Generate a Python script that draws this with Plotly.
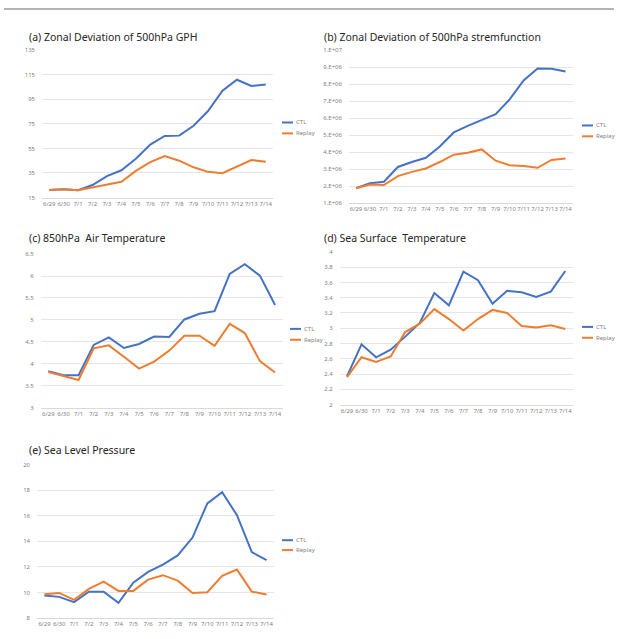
import plotly.graph_objects as go

W, H = 621, 639

dates = ["6/29", "6/30", "7/1", "7/2", "7/3", "7/4", "7/5", "7/6", "7/7", "7/8",
         "7/9", "7/10", "7/11", "7/12", "7/13", "7/14"]

gph_ctl = [21.2, 21.7, 20.9, 25.2, 32.4, 37.2, 46.6, 58.1, 65.1, 65.4, 73.4, 85.4, 102.0, 110.9, 105.8, 107.1]
gph_rep = [21.2, 21.7, 20.9, 23.3, 25.2, 27.8, 36.7, 43.9, 48.7, 45.0, 39.6, 35.9, 34.8, 39.9, 45.5, 44.2]

sf_ctl = [1.88e6, 2.17e6, 2.26e6, 3.13e6, 3.42e6, 3.67e6, 4.33e6, 5.16e6, 5.55e6, 5.90e6, 6.23e6, 7.10e6, 8.22e6, 8.92e6, 8.90e6, 8.74e6]
sf_rep = [1.88e6, 2.10e6, 2.07e6, 2.59e6, 2.84e6, 3.04e6, 3.42e6, 3.85e6, 3.97e6, 4.16e6, 3.50e6, 3.23e6, 3.19e6, 3.08e6, 3.54e6, 3.62e6]

t850_ctl = [3.83, 3.74, 3.74, 4.43, 4.60, 4.36, 4.45, 4.62, 4.61, 5.01, 5.14, 5.20, 6.05, 6.27, 6.01, 5.34]
t850_rep = [3.81, 3.72, 3.63, 4.35, 4.42, 4.16, 3.89, 4.05, 4.30, 4.64, 4.64, 4.41, 4.91, 4.70, 4.06, 3.80]

sst_ctl = [2.37, 2.79, 2.62, 2.72, 2.89, 3.07, 3.46, 3.30, 3.74, 3.63, 3.32, 3.49, 3.47, 3.41, 3.48, 3.75]
sst_rep = [2.36, 2.62, 2.56, 2.63, 2.95, 3.06, 3.25, 3.12, 2.97, 3.12, 3.24, 3.20, 3.03, 3.01, 3.04, 2.99]

slp_ctl = [9.75, 9.65, 9.24, 10.06, 10.06, 9.19, 10.76, 11.61, 12.18, 12.90, 14.30, 16.98, 17.86, 16.05, 13.16, 12.54]
slp_rep = [9.86, 9.96, 9.42, 10.27, 10.84, 10.12, 10.12, 11.00, 11.35, 10.92, 9.96, 10.01, 11.30, 11.79, 10.06, 9.83]

titles = ["(a) Zonal Deviation of 500hPa GPH",
          "(b) Zonal Deviation of 500hPa stremfunction",
          "(c) 850hPa  Air Temperature",
          "(d) Sea Surface  Temperature",
          "(e) Sea Level Pressure"]

gph_ticks = [15, 35, 55, 75, 95, 115, 135]
sf_ticks = [1e6, 2e6, 3e6, 4e6, 5e6, 6e6, 7e6, 8e6, 9e6, 1e7]
sf_ticktext = ["1.E+06", "2.E+06", "3.E+06", "4.E+06", "5.E+06", "6.E+06", "7.E+06", "8.E+06", "9.E+06", "1.E+07"]
t850_ticks = [3, 3.5, 4, 4.5, 5, 5.5, 6, 6.5]
t850_text = ["3", "3.5", "4", "4.5", "5", "5.5", "6", "6.5"]
sst_ticks = [2, 2.2, 2.4, 2.6, 2.8, 3, 3.2, 3.4, 3.6, 3.8, 4]
sst_text = ["2", "2.2", "2.4", "2.6", "2.8", "3", "3.2", "3.4", "3.6", "3.8", "4"]
slp_ticks = [8, 10, 12, 14, 16, 18, 20]

series_names = ["CTL", "Replay"]
colors = ["#4472C4", "#ED7D31"]

# panel layout (pixels): x-domain, y-domain(top,bottom), title pos, legend pos
panels = [
    dict(ctl=gph_ctl, rep=gph_rep, xd=(42, 273), yd=(46.7, 196), yr=(15, 135),
         tv=gph_ticks, tt=[str(v) for v in gph_ticks], tpos=(27, 33), lpos=(282, 120, 131)),
    dict(ctl=sf_ctl, rep=sf_rep, xd=(349, 572.5), yd=(46.7, 201.7), yr=(1e6, 1e7),
         tv=sf_ticks, tt=sf_ticktext, tpos=(322, 33), lpos=(582, 123, 134)),
    dict(ctl=t850_ctl, rep=t850_rep, xd=(40.8, 282.6), yd=(253.3, 408.7), yr=(3, 6.5),
         tv=t850_ticks, tt=t850_text, tpos=(27, 237), lpos=(290, 329, 340)),
    dict(ctl=sst_ctl, rep=sst_rep, xd=(339.7, 572.6), yd=(251, 405.7), yr=(2, 4),
         tv=sst_ticks, tt=sst_text, tpos=(322, 237), lpos=(582, 327, 338)),
    dict(ctl=slp_ctl, rep=slp_rep, xd=(37, 274), yd=(466.7, 621.7), yr=(8, 20),
         tv=slp_ticks, tt=[str(v) for v in slp_ticks], tpos=(27, 452), lpos=(282, 543, 553)),
]

def px(x):
    return x / W

def py(y):
    return 1 - y / H

fig = go.Figure()
shapes = []
annotations = []
layout = {}

tick_font = dict(family="Noto Sans, Open Sans, sans-serif", size=6, color="#7f7f7f")

for i, p in enumerate(panels):
    n = "" if i == 0 else str(i + 1)
    xa, ya = "x" + n, "y" + n
    for vals, name, col in [(p["ctl"], series_names[0], colors[0]), (p["rep"], series_names[1], colors[1])]:
        fig.add_trace(go.Scatter(x=dates, y=vals, mode="lines", name=name,
                                 line=dict(color=col, width=2), xaxis=xa, yaxis=ya,
                                 showlegend=False))
    layout["xaxis" + n] = dict(domain=[px(p["xd"][0]), px(p["xd"][1])], anchor=ya,
                               type="category", range=[-0.5, 15.5], showgrid=False,
                               showline=True, linecolor="#d9d9d9", linewidth=1,
                               ticks="", tickfont=tick_font, tickangle=0, fixedrange=True)
    layout["yaxis" + n] = dict(domain=[py(p["yd"][1]), py(p["yd"][0])], anchor=xa,
                               range=list(p["yr"]), tickmode="array", tickvals=p["tv"],
                               ticktext=p["tt"], showgrid=True, gridcolor="#e6e6e6",
                               gridwidth=1, zeroline=False, showline=False, ticks="",
                               tickfont=tick_font, ticklabelstandoff=6, fixedrange=True)
    annotations.append(dict(text=titles[i], x=px(p["tpos"][0]), y=py(p["tpos"][1]),
                            xref="paper", yref="paper", xanchor="left", yanchor="middle",
                            showarrow=False,
                            font=dict(family="Noto Sans, Open Sans, sans-serif", size=10.5, color="#262626")))
    lx, ly1, ly2 = p["lpos"]
    for ly, name, col in [(ly1, series_names[0], colors[0]), (ly2, series_names[1], colors[1])]:
        shapes.append(dict(type="line", xref="paper", yref="paper", x0=px(lx), x1=px(lx + 11),
                           y0=py(ly), y1=py(ly), line=dict(color=col, width=2)))
        annotations.append(dict(text=name, x=px(lx + 12), y=py(ly), xref="paper", yref="paper",
                                xanchor="left", yanchor="middle", showarrow=False,
                                font=dict(family="Noto Sans, Open Sans, sans-serif", size=6, color="#7f7f7f")))

# top rule
shapes.append(dict(type="line", xref="paper", yref="paper", x0=px(4), x1=px(614),
                   y0=py(5), y1=py(5), line=dict(color="#9a9a9a", width=1.5)))

fig.update_layout(width=W, height=H, margin=dict(l=0, r=0, t=0, b=0),
                  paper_bgcolor="white", plot_bgcolor="white", showlegend=False,
                  hovermode=False, shapes=shapes, annotations=annotations, **layout)

fig.write_html("out.html", config={"displayModeBar": False, "staticPlot": True},
               post_script="document.body.style.margin='0';document.body.style.overflow='hidden';")
